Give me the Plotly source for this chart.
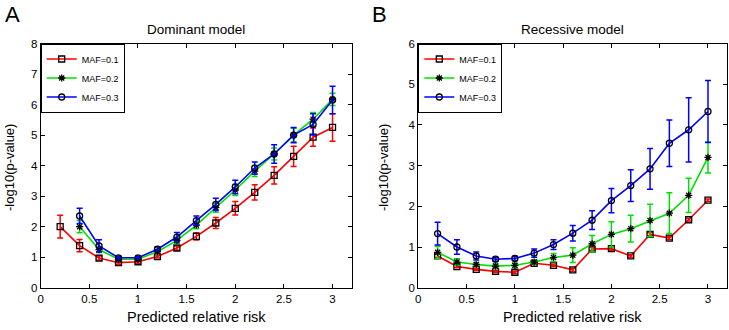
import plotly.graph_objects as go

# ---- data ----
rr_full = [0.2, 0.4, 0.6, 0.8, 1.0, 1.2, 1.4, 1.6, 1.8, 2.0, 2.2, 2.4, 2.6, 2.8, 3.0]
rr_short = rr_full[1:]

# Dominant model (panel A)
dom_maf1 = [2.0, 1.38, 0.97, 0.82, 0.85, 1.02, 1.30, 1.68, 2.12, 2.60, 3.12, 3.68, 4.30, 4.93, 5.25]
dom_maf1_err = [0.37, 0.20, 0.07, 0.05, 0.05, 0.05, 0.07, 0.12, 0.18, 0.22, 0.25, 0.28, 0.33, 0.30, 0.45]
dom_maf2 = [2.0, 1.25, 0.93, 0.93, 1.18, 1.55, 2.05, 2.62, 3.20, 3.82, 4.38, 5.00, 5.52, 6.17]
dom_maf2_err = [0.20, 0.10, 0.05, 0.05, 0.07, 0.10, 0.12, 0.15, 0.18, 0.18, 0.20, 0.22, 0.22, 0.20]
dom_maf3 = [2.35, 1.37, 0.98, 0.98, 1.26, 1.66, 2.20, 2.73, 3.30, 3.92, 4.38, 5.00, 5.35, 6.15]
dom_maf3_err = [0.25, 0.20, 0.05, 0.05, 0.08, 0.15, 0.15, 0.20, 0.22, 0.20, 0.30, 0.25, 0.35, 0.45]

# Recessive model (panel B)
rec_maf1 = [0.78, 0.52, 0.45, 0.40, 0.38, 0.60, 0.55, 0.44, 0.95, 0.96, 0.78, 1.31, 1.22, 1.67, 2.15]
rec_maf1_err = [0.04, 0.03, 0.03, 0.03, 0.03, 0.03, 0.03, 0.04, 0.04, 0.04, 0.03, 0.04, 0.04, 0.03, 0.03]
rec_maf2 = [0.87, 0.63, 0.57, 0.53, 0.55, 0.63, 0.74, 0.80, 1.08, 1.31, 1.45, 1.65, 1.83, 2.27, 3.20]
rec_maf2_err = [0.15, 0.08, 0.05, 0.05, 0.05, 0.05, 0.10, 0.18, 0.20, 0.31, 0.33, 0.40, 0.50, 0.42, 0.38]
rec_maf3 = [1.33, 1.00, 0.78, 0.70, 0.72, 0.85, 1.06, 1.34, 1.66, 2.14, 2.51, 2.92, 3.55, 3.88, 4.33]
rec_maf3_err = [0.28, 0.18, 0.10, 0.05, 0.05, 0.10, 0.12, 0.19, 0.23, 0.30, 0.39, 0.50, 0.57, 0.79, 0.76]

labels = ["MAF=0.1", "MAF=0.2", "MAF=0.3"]
x_ticks = [0, 0.5, 1, 1.5, 2, 2.5, 3]
y_ticks_a = [0, 1, 2, 3, 4, 5, 6, 7, 8]
y_ticks_b = [0, 1, 2, 3, 4, 5, 6]

colors = ["#ff0000", "#00e000", "#0000ff"]
symbols = ["square-open", "asterisk-open", "circle-open"]

fig = go.Figure()

def add_series(x, y, err, i, xa, ya, legend):
    fig.add_trace(go.Scatter(
        x=x, y=y, mode="lines+markers", name=labels[i],
        line=dict(color=colors[i], width=1.6),
        marker=dict(symbol=symbols[i], color="black", size=6,
                    line=dict(color="black", width=1.3)),
        error_y=dict(type="data", array=err, visible=True,
                     color=colors[i], thickness=1.5, width=3),
        xaxis=xa, yaxis=ya, legend=legend,
    ))

for i, (y, e) in enumerate([(dom_maf1, dom_maf1_err), (dom_maf2, dom_maf2_err), (dom_maf3, dom_maf3_err)]):
    xs = rr_full if i == 0 else rr_short
    add_series(xs, y, e, i, "x", "y", "legend")
for i, (y, e) in enumerate([(rec_maf1, rec_maf1_err), (rec_maf2, rec_maf2_err), (rec_maf3, rec_maf3_err)]):
    add_series(rr_full, y, e, i, "x2", "y2", "legend2")

W, H = 729, 330
ax_a = (40.7, 352.0)
ax_b = (418.3, 727.3)
y_top_px, y_bot_px = 43.5, 287.7
ydom = [(H - y_bot_px) / H, (H - y_top_px) / H]

FONT = "Liberation Sans, Arial"
axis_common = dict(showline=True, linecolor="black", linewidth=1, mirror="allticks",
                   ticks="inside", ticklen=4, tickcolor="black", showgrid=False,
                   zeroline=False, automargin=False,
                   tickfont=dict(family=FONT, size=11.5, color="black"))

leg_common = dict(yanchor="top", xanchor="left", y=ydom[1],
                  bordercolor="black", borderwidth=1, bgcolor="white",
                  font=dict(family=FONT, size=9, color="black"),
                  itemwidth=30, tracegroupgap=0)

fig.update_layout(
    width=W, height=H, margin=dict(l=0, r=0, t=0, b=0),
    paper_bgcolor="white", plot_bgcolor="white",
    font=dict(family=FONT, color="black"),
    xaxis=dict(domain=[ax_a[0] / W, ax_a[1] / W], range=[0, 3.2], tickvals=x_ticks,
               anchor="y", **axis_common),
    yaxis=dict(domain=ydom, range=[0, 8], tickvals=y_ticks_a, anchor="x", **axis_common),
    xaxis2=dict(domain=[ax_b[0] / W, ax_b[1] / W], range=[0, 3.2], tickvals=x_ticks,
                anchor="y2", **axis_common),
    yaxis2=dict(domain=ydom, range=[0, 6], tickvals=y_ticks_b, anchor="x2", **axis_common),
    legend=dict(x=ax_a[0] / W, **leg_common),
    legend2=dict(x=ax_b[0] / W, **leg_common),
    showlegend=True,
)

ann = []
def txt(x, y, t, size, angle=0, xanchor="center"):
    ann.append(dict(x=x / W, y=(H - y) / H, xref="paper", yref="paper", text=t,
                    showarrow=False, font=dict(family=FONT, size=size, color="black"),
                    textangle=angle, xanchor=xanchor, yanchor="middle"))

txt(3, 14, "A", 22, xanchor="left")
txt(370, 14, "B", 22, xanchor="left")
txt(sum(ax_a) / 2, 29, "Dominant model", 13.5)
txt(sum(ax_b) / 2, 29, "Recessive model", 13.5)
txt(sum(ax_a) / 2, 317, "Predicted relative risk", 14.5)
txt(sum(ax_b) / 2, 317, "Predicted relative risk", 14.5)
txt(10, 168, "-log10(p-value)", 13, angle=-90)
txt(384, 168, "-log10(p-value)", 13, angle=-90)
fig.update_layout(annotations=ann)

fig.write_html("out.html", config={"displayModeBar": False},
               post_script="document.body.style.margin='0';document.body.style.overflow='hidden';")
